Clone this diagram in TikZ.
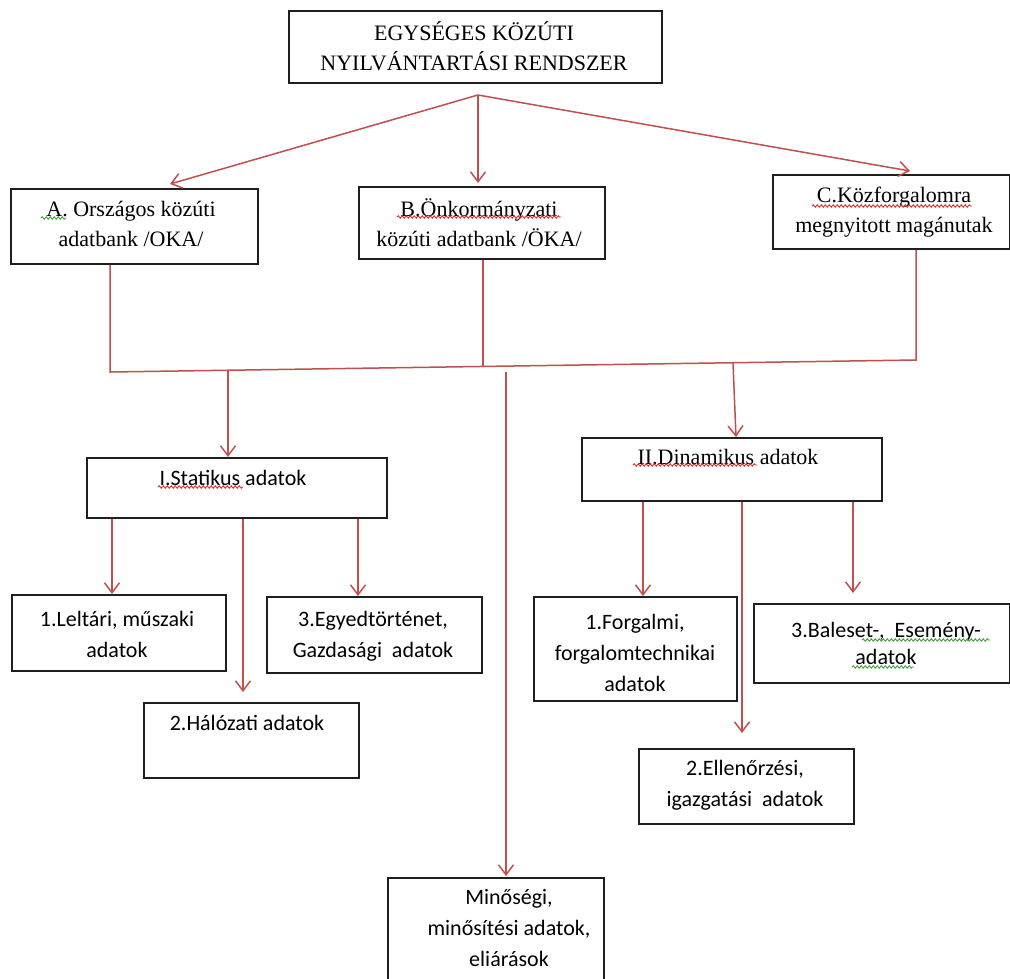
\documentclass[tikz,border=0pt]{standalone}
\usepackage{fontspec}
\setmainfont{Liberation Serif}
\newfontfamily\carlito{Carlito}
\usetikzlibrary{arrows.meta,calc,decorations.pathmorphing}
\definecolor{arrred}{RGB}{192,80,77}
\definecolor{spellred}{RGB}{225,45,45}
\definecolor{spellgreen}{RGB}{70,160,60}
\begin{document}
\begin{tikzpicture}[x=1pt,y=-1pt,
  box/.style={draw=black!88, line width=1.8pt, inner sep=0pt, anchor=north west},
  serif/.style={font=\fontsize{22}{30}\selectfont, align=center, inner sep=0pt},
  sans/.style={font=\carlito\fontsize{22}{31}\selectfont, align=center, inner sep=0pt},
  link/.style={draw=arrred, line width=1.5pt},
  arr/.style={link, -{Straight Barb[length=10pt,width=15pt,line width=1.5pt]}},
  spell/.style={decorate, decoration={snake, amplitude=1.2pt, segment length=4pt}, line width=0.9pt}]
\useasboundingbox (0,0) rectangle (1010,978);
\clip (0,0) rectangle (1010,978);
\fill[white] (0,0) rectangle (1010,978);

% boxes
\node[box, minimum width=373pt, minimum height=72pt] (top) at (288,10) {};
\node[box, minimum width=247pt, minimum height=75pt] (A) at (10,188) {};
\node[box, minimum width=246pt, minimum height=72pt] (B) at (358,186) {};
\node[box, minimum width=237pt, minimum height=74pt] (C) at (772,174) {};
\node[box, minimum width=300pt, minimum height=60pt] (I) at (86,457) {};
\node[box, minimum width=300pt, minimum height=63pt] (II) at (581,437) {};
\node[box, minimum width=214pt, minimum height=76pt] (L1) at (11,594) {};
\node[box, minimum width=215pt, minimum height=76pt] (E3) at (266,596) {};
\node[box, minimum width=215pt, minimum height=75pt] (H2) at (143,702) {};
\node[box, minimum width=203pt, minimum height=104pt] (F1) at (533,596) {};
\node[box, minimum width=256pt, minimum height=79pt] (B3) at (753,603) {};
\node[box, minimum width=215pt, minimum height=75pt] (E2) at (638,748) {};
\node[box, minimum width=216pt, minimum height=120pt] (M) at (387,877) {};

% texts
\node[serif] (ttop) at (474,46) {EGYSÉGES KÖZÚTI\\NYILVÁNTARTÁSI RENDSZER};
\node[serif] (tA) at (131,224) {A. Országos közúti\\adatbank /OKA/};
\node[serif] (tB) at (479,223) {B.Önkormányzati\\közúti adatbank /ÖKA/};
\node[serif] (tC) at (894,212) {C.Közforgalomra\\megnyitott magánutak};
\node[sans] (tI) at (233,478) {I.Statikus adatok};
\node[serif] (tII) at (728,457) {II.Dinamikus adatok};
\node[sans] (tL1) at (117,634) {1.Leltári, műszaki\\adatok};
\node[sans] (tE3) at (373,636) {3.Egyedtörténet,\\Gazdasági\ \ adatok};
\node[sans] (tH2) at (247,723) {2.Hálózati adatok};
\node[sans] (tF1) at (635,653) {1.Forgalmi,\\forgalomtechnikai\\adatok};
\node[sans, font=\carlito\fontsize{22}{27}\selectfont] (tB3) at (886,643) {3.Baleset-,\ \ Esemény-\\adatok};
\node[sans] (tE2) at (745,785) {2.Ellenőrzési,\\igazgatási\ \ adatok};
\node[sans] (tM) at (509,928) {Minőségi,\\minősítési adatok,\\eliárások};

% spell-check underlines
\draw[spell, spellgreen] (41,218) -- (66,218);
\draw[spell, spellred] (397,217) -- (561,217);
\draw[spell, spellred] (812,206) -- (972,206);
\draw[spell, spellred] (158,487) -- (243,487);
\draw[spell, spellred] (633,465) -- (757,465);
\draw[spell, spellgreen] (862,640) -- (990,640);
\draw[spell, spellgreen] (852,667) -- (914,667);

% connectors from the top
\coordinate (fork) at (478,95);
\draw[arr] (fork) -- ($(A.north -| 170,0)+(0,-4)$);
\draw[arr] (fork) -- ($(B.north -| fork)+(0,-3)$);
\draw[arr] (fork) -- ($(C.north -| 910,0)+(0,-3)$);

% collecting bus
\coordinate (busL) at (110,372);
\coordinate (busR) at (916,360);
\coordinate (busB) at (483,366.5);
\draw[link] (A.south -| busL) -- (busL) -- (busR) -- (C.south -| busR);
\draw[link] (B.south -| busB) -- (busB);

\coordinate (busI) at (228,370.2);
\coordinate (busM) at (506,372);
\coordinate (busII) at (733,362.9);
\draw[arr] (busI) -- (I.north -| busI);
\draw[arr] (busM) -- ($(M.north -| busM)+(0,-1)$);
\draw[arr] (busII) -- (II.north -| 736,0);

% from I
\draw[arr] (I.south -| 112,0) -- (L1.north -| 112,0);
\draw[arr] (I.south -| 243,0) -- ($(H2.north -| 243,0)+(0,-10)$);
\draw[arr] (I.south -| 358,0) -- (E3.north -| 358,0);

% from II
\draw[arr] (II.south -| 643,0) -- (F1.north -| 643,0);
\draw[arr] (II.south -| 742,0) -- ($(E2.north -| 742,0)+(0,-15)$);
\draw[arr] (II.south -| 853,0) -- ($(B3.north -| 853,0)+(0,-10)$);
\end{tikzpicture}
\end{document}
